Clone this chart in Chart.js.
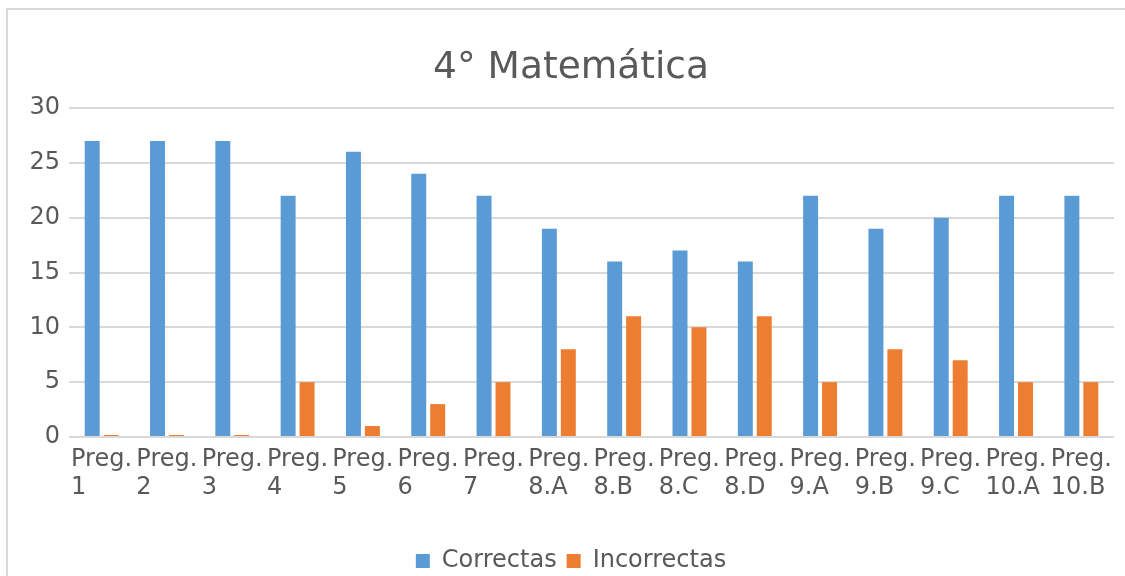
<!DOCTYPE html>
<html>
<head>
<meta charset="utf-8">
<script src="https://cdn.jsdelivr.net/npm/chart.js@4"></script>
<style>
  html, body { margin: 0; padding: 0; background: #ffffff; overflow: hidden; }
  #wrap { position: relative; width: 1125px; height: 576px; }
  canvas { display: block; }
</style>
</head>
<body>
<div id="wrap"><canvas id="c" width="1125" height="576"></canvas></div>
<script>
const chartTitle = '4° Matemática';
const categories = ['Preg. 1', 'Preg. 2', 'Preg. 3', 'Preg. 4', 'Preg. 5', 'Preg. 6', 'Preg. 7', 'Preg. 8.A', 'Preg. 8.B', 'Preg. 8.C', 'Preg. 8.D', 'Preg. 9.A', 'Preg. 9.B', 'Preg. 9.C', 'Preg. 10.A', 'Preg. 10.B'];
const seriesNames = ['Correctas', 'Incorrectas'];
const correctas = [27, 27, 27, 22, 26, 24, 22, 19, 16, 17, 16, 22, 19, 20, 22, 22];
const incorrectas = [0, 0, 0, 5, 1, 3, 5, 8, 11, 10, 11, 5, 8, 7, 5, 5];
const yTicks = [0, 5, 10, 15, 20, 25, 30];

const FONT = "'DejaVu Sans', Verdana, sans-serif";
const TXT = '#595959';
const GRID = '#d9d9d9';

const frame = {
  id: 'frame',
  beforeDraw(chart) {
    const ctx = chart.ctx;
    ctx.save();
    ctx.fillStyle = '#ffffff';
    ctx.fillRect(0, 0, chart.width, chart.height);
    ctx.strokeStyle = GRID;
    ctx.lineWidth = 2;
    ctx.beginPath();
    ctx.moveTo(7, chart.height + 10);
    ctx.lineTo(7, 9);
    ctx.lineTo(chart.width + 10, 9);
    ctx.stroke();
    ctx.restore();
  }
};

new Chart(document.getElementById('c'), {
  type: 'bar',
  data: {
    labels: categories.map(s => s.split(' ')),
    datasets: [
      { label: seriesNames[0], data: correctas, backgroundColor: '#5b9bd5', borderWidth: 0, minBarLength: 2 },
      { label: seriesNames[1], data: incorrectas, backgroundColor: '#ed7d31', borderWidth: 0, minBarLength: 2 }
    ]
  },
  options: {
    responsive: false,
    animation: false,
    devicePixelRatio: 1,
    layout: { padding: { left: 17, right: 0, top: 0, bottom: -7 } },
    datasets: { bar: { categoryPercentage: 0.58, barPercentage: 0.79 } },
    plugins: {
      title: {
        display: true,
        text: chartTitle,
        color: TXT,
        font: { family: FONT, size: 37.5, weight: 'normal', lineHeight: 1.2 },
        padding: { top: 46, bottom: 17 }
      },
      legend: {
        display: true,
        position: 'bottom',
        labels: {
          color: TXT,
          font: { family: FONT, size: 24 },
          boxWidth: 14,
          boxHeight: 14,
          padding: 10
        }
      },
      tooltip: { enabled: false }
    },
    scales: {
      x: {
        grid: { display: false, drawTicks: false },
        border: { display: false },
        ticks: {
          color: TXT,
          font: { family: FONT, size: 24, lineHeight: 1.2 },
          align: 'start',
          labelOffset: -30.6,
          padding: 8,
          maxRotation: 0,
          minRotation: 0,
          autoSkip: false
        },
        afterFit(scale) { scale.height = 102; scale.paddingLeft = 0; scale.paddingRight = 0; }
      },
      y: {
        min: 0,
        max: 30,
        grid: { color: GRID, lineWidth: 2, drawTicks: false },
        border: { display: false },
        ticks: {
          color: TXT,
          font: { family: FONT, size: 24 },
          padding: 9,
          stepSize: 5
        },
        afterBuildTicks(scale) { scale.ticks = yTicks.map(v => ({ value: v })); },
        afterFit(scale) { scale.width = 52; }
      },
      yRight: {
        position: 'right',
        display: true,
        grid: { display: false, drawTicks: false },
        border: { display: false },
        ticks: { display: false },
        afterFit(scale) { scale.width = 11; scale.paddingTop = 0; scale.paddingBottom = 0; }
      }
    }
  },
  plugins: [frame]
});
</script>
</body>
</html>
